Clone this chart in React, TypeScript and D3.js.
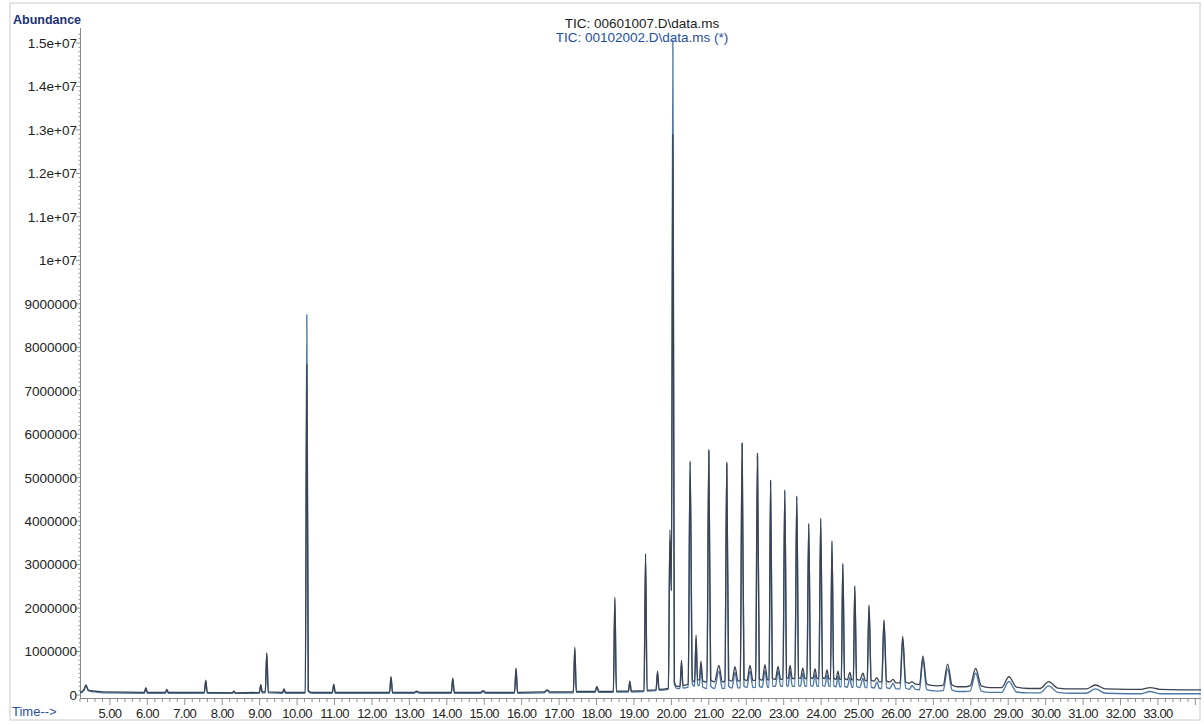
import React from "react";
import * as d3 from "d3";

// Abundance values are in millions of counts (UNIT)
const UNIT = 1e6;

const times: number[] = [
  4.2, 4.3, 4.36, 4.42, 4.5, 4.62, 4.8,
  5.92, 5.96, 6.0, 6.48, 6.52, 6.56,
  7.52, 7.56, 7.6, 8.27, 8.31, 8.35,
  8.99, 9.03, 9.07, 9.15, 9.19, 9.23, 9.61, 9.65, 9.69,
  10.22, 10.26, 10.3, 10.4, 10.94, 10.98, 11.02,
  12.47, 12.51, 12.55, 13.12, 13.2, 13.28,
  14.12, 14.16, 14.2, 14.9, 14.97, 15.04,
  15.81, 15.85, 15.89, 16.6, 16.68, 16.76,
  17.38, 17.42, 17.46, 17.96, 18.01, 18.06,
  18.45, 18.49, 18.53, 18.85, 18.89, 18.93,
  19.27, 19.31, 19.35, 19.59, 19.63, 19.67,
  19.92, 19.96, 20.0, 20.04, 20.08, 20.15,
  20.23, 20.27, 20.31, 20.45, 20.5, 20.56,
  20.62, 20.66, 20.7, 20.75, 20.79, 20.84,
  20.95, 21.0, 21.05, 21.15, 21.27, 21.36,
  21.43, 21.48, 21.53, 21.62, 21.7, 21.78,
  21.84, 21.89, 21.94, 22.02, 22.1, 22.18,
  22.25, 22.3, 22.35, 22.43, 22.5, 22.57,
  22.61, 22.65, 22.7, 22.78, 22.85, 22.92,
  22.98, 23.03, 23.08, 23.12, 23.17, 23.23,
  23.3, 23.35, 23.4, 23.45, 23.51, 23.57,
  23.62, 23.67, 23.72, 23.78, 23.84, 23.89,
  23.94, 23.99, 24.04, 24.1, 24.16, 24.21,
  24.25, 24.29, 24.34, 24.4, 24.45, 24.5,
  24.54, 24.58, 24.63, 24.7, 24.77, 24.82,
  24.86, 24.9, 24.95, 25.03, 25.12, 25.18,
  25.23, 25.28, 25.34, 25.42, 25.49, 25.56,
  25.62, 25.68, 25.75, 25.84, 25.92, 26.0,
  26.11, 26.18, 26.26, 26.36, 26.43, 26.52,
  26.63, 26.72, 26.82, 26.95, 27.1, 27.26,
  27.38, 27.5, 27.65, 27.85, 27.98, 28.13,
  28.28, 28.5, 28.82, 29.02, 29.22, 29.55,
  29.85, 30.08, 30.32, 30.7, 31.08, 31.33,
  31.6, 32.2, 32.55, 32.79, 33.05, 33.6, 34.15,
];

// TIC: 00601007.D\data.ms
const abundanceA: number[] = [
  0.06, 0.12, 0.23, 0.12, 0.1, 0.09, 0.07,
  0.06, 0.17, 0.06, 0.06, 0.13, 0.06,
  0.06, 0.34, 0.06, 0.05, 0.09, 0.05,
  0.06, 0.24, 0.07, 0.07, 0.97, 0.07, 0.06, 0.14, 0.06,
  0.06, 7.6, 0.1, 0.06, 0.06, 0.25, 0.06,
  0.06, 0.42, 0.06, 0.06, 0.09, 0.06,
  0.06, 0.39, 0.06, 0.06, 0.1, 0.06,
  0.06, 0.62, 0.06, 0.07, 0.12, 0.07,
  0.07, 1.1, 0.08, 0.08, 0.2, 0.08,
  0.08, 2.25, 0.09, 0.09, 0.32, 0.09,
  0.1, 3.25, 0.11, 0.12, 0.55, 0.13,
  0.15, 3.8, 2.4, 12.9, 0.3, 0.2,
  0.2, 0.8, 0.22, 0.25, 5.38, 0.35,
  0.3, 1.38, 0.35, 0.35, 0.78, 0.32,
  0.3, 5.64, 0.35, 0.3, 0.68, 0.3,
  0.32, 5.35, 0.35, 0.32, 0.65, 0.32,
  0.33, 5.8, 0.36, 0.33, 0.68, 0.33,
  0.34, 5.56, 0.37, 0.34, 0.7, 0.35,
  0.35, 4.94, 0.38, 0.36, 0.66, 0.36,
  0.36, 4.72, 0.4, 0.38, 0.68, 0.38,
  0.38, 4.58, 0.4, 0.38, 0.62, 0.38,
  0.38, 3.95, 0.4, 0.38, 0.6, 0.38,
  0.38, 4.07, 0.4, 0.38, 0.58, 0.37,
  0.37, 3.55, 0.39, 0.36, 0.55, 0.36,
  0.36, 3.03, 0.38, 0.35, 0.52, 0.35,
  0.35, 2.51, 0.37, 0.34, 0.5, 0.33,
  0.33, 2.07, 0.34, 0.32, 0.4, 0.3,
  0.3, 1.73, 0.32, 0.3, 0.36, 0.28,
  0.28, 1.35, 0.3, 0.27, 0.31, 0.25,
  0.24, 0.9, 0.26, 0.22, 0.21, 0.22,
  0.71, 0.23, 0.19, 0.19, 0.21, 0.61,
  0.21, 0.17, 0.17, 0.42, 0.18, 0.15,
  0.15, 0.31, 0.16, 0.14, 0.14, 0.23,
  0.14, 0.13, 0.13, 0.17, 0.13, 0.12, 0.12,
];

// TIC: 00102002.D\data.ms (*)
const abundanceB: number[] = [
  0.04, 0.1, 0.2, 0.1, 0.08, 0.07, 0.05,
  0.04, 0.15, 0.04, 0.04, 0.11, 0.04,
  0.04, 0.32, 0.04, 0.04, 0.08, 0.04,
  0.04, 0.22, 0.05, 0.05, 0.95, 0.05, 0.04, 0.12, 0.04,
  0.04, 8.75, 0.08, 0.04, 0.04, 0.23, 0.04,
  0.04, 0.4, 0.04, 0.04, 0.07, 0.04,
  0.04, 0.37, 0.04, 0.04, 0.08, 0.04,
  0.04, 0.6, 0.04, 0.05, 0.1, 0.05,
  0.05, 1.06, 0.06, 0.06, 0.18, 0.06,
  0.06, 2.2, 0.07, 0.07, 0.3, 0.07,
  0.08, 3.2, 0.09, 0.1, 0.52, 0.11,
  0.13, 3.55, 2.4, 15.07, 0.25, 0.15,
  0.15, 0.7, 0.16, 0.18, 5.35, 0.25,
  0.2, 1.3, 0.22, 0.22, 0.7, 0.18,
  0.15, 5.6, 0.2, 0.15, 0.55, 0.15,
  0.16, 5.3, 0.2, 0.16, 0.52, 0.16,
  0.17, 5.78, 0.2, 0.17, 0.55, 0.17,
  0.18, 5.5, 0.2, 0.18, 0.56, 0.18,
  0.18, 4.9, 0.2, 0.2, 0.55, 0.2,
  0.2, 4.68, 0.22, 0.2, 0.56, 0.2,
  0.2, 4.55, 0.22, 0.2, 0.5, 0.2,
  0.2, 3.92, 0.22, 0.2, 0.48, 0.2,
  0.2, 4.02, 0.22, 0.2, 0.46, 0.2,
  0.2, 3.5, 0.21, 0.19, 0.44, 0.19,
  0.19, 3.0, 0.2, 0.18, 0.4, 0.18,
  0.18, 2.48, 0.2, 0.17, 0.38, 0.17,
  0.17, 2.04, 0.18, 0.16, 0.3, 0.15,
  0.15, 1.7, 0.17, 0.15, 0.27, 0.14,
  0.14, 1.3, 0.16, 0.13, 0.22, 0.13,
  0.12, 0.82, 0.13, 0.1, 0.09, 0.1,
  0.6, 0.11, 0.08, 0.08, 0.09, 0.5,
  0.09, 0.06, 0.06, 0.31, 0.07, 0.05,
  0.05, 0.21, 0.06, 0.04, 0.04, 0.14,
  0.04, 0.03, 0.03, 0.08, 0.03, 0.03, 0.03,
];

const titleA = "TIC: 00601007.D\\data.ms";
const titleB = "TIC: 00102002.D\\data.ms (*)";
const yTickValues = d3.range(0, 16).map((i) => i * 1e6);
const xTickValues = d3.range(5, 34).map((v) => v);

const fmtY = (v: number) =>
  v < 1e7 ? String(v) : `${+(v / 1e7).toFixed(1)}e+07`;
const fmtX = d3.format(".2f");

export default function App() {
  const W = 1204;
  const H = 725;
  const x = d3.scaleLinear().domain([4.2, 34.15]).range([80, 1201]);
  const y = d3.scaleLinear().domain([0, 1.5e7]).range([695, 43]);

  const mkLine = (vals: number[]) =>
    d3
      .line<number>()
      .x((_, i) => x(times[i]))
      .y((d) => y(d * UNIT))
      .curve(d3.curveMonotoneX)(vals) || "";

  const minorX = d3.range(21, 171).map((i) => i / 5).filter((t) => t <= 34.15);
  const minorY = d3.range(0, 153).map((i) => i * 1e5);
  const font = "'Liberation Sans', Arial, sans-serif";

  return (
    <svg
      width={W}
      height={H}
      style={{ position: "absolute", left: 0, top: 0, background: "#fff" }}
      fontFamily={font}
    >
      <rect x={10} y={3} width={1190} height={717} fill="#fff" stroke="#dcdcdc" strokeWidth={1.5} />

      {/* Y axis */}
      <line x1={80.5} x2={80.5} y1={28} y2={698} stroke="#8a8a8a" strokeWidth={1} />
      {minorY.map((v, i) => (
        <line
          key={"my" + i}
          x1={80.5}
          x2={i % 10 === 0 ? 76 : 78.5}
          y1={y(v)}
          y2={y(v)}
          stroke="#777"
          strokeWidth={0.8}
        />
      ))}
      {yTickValues.map((v) => (
        <text
          key={"yt" + v}
          x={77}
          y={y(v)}
          dy="0.36em"
          textAnchor="end"
          fontSize={13.5}
          fill="#222"
        >
          {fmtY(v)}
        </text>
      ))}

      {/* X axis */}
      <line x1={80} x2={1201} y1={698.5} y2={698.5} stroke="#8a8a8a" strokeWidth={1} />
      {minorX.map((t, i) => {
        const major = Math.abs(t - Math.round(t)) < 1e-6;
        return (
          <line
            key={"mx" + i}
            x1={x(t)}
            x2={x(t)}
            y1={698.5}
            y2={major ? 705 : 702}
            stroke="#777"
            strokeWidth={0.8}
          />
        );
      })}
      {xTickValues.map((t) => (
        <text
          key={"xt" + t}
          x={x(t)}
          y={717.5}
          textAnchor="middle"
          fontSize={13}
          letterSpacing={-0.6}
          fill="#222"
        >
          {fmtX(t)}
        </text>
      ))}

      {/* Traces */}
      <path d={mkLine(abundanceB)} fill="none" stroke="#4f79a8" strokeWidth={1.4} strokeLinejoin="round" />
      <path d={mkLine(abundanceA)} fill="none" stroke="#3b4250" strokeWidth={1.3} strokeLinejoin="round" />

      {/* Labels */}
      <text x={13} y={24} fontSize={12.5} fontWeight="bold" fill="#1c2f7a">
        Abundance
      </text>
      <text x={12} y={716} fontSize={13} fill="#2a4f9a">
        Time--&gt;
      </text>
      <text x={642} y={28} textAnchor="middle" fontSize={13.5} fill="#222">
        {titleA}
      </text>
      <text x={642} y={41.5} textAnchor="middle" fontSize={13.5} fill="#1f4fa0">
        {titleB}
      </text>
    </svg>
  );
}
